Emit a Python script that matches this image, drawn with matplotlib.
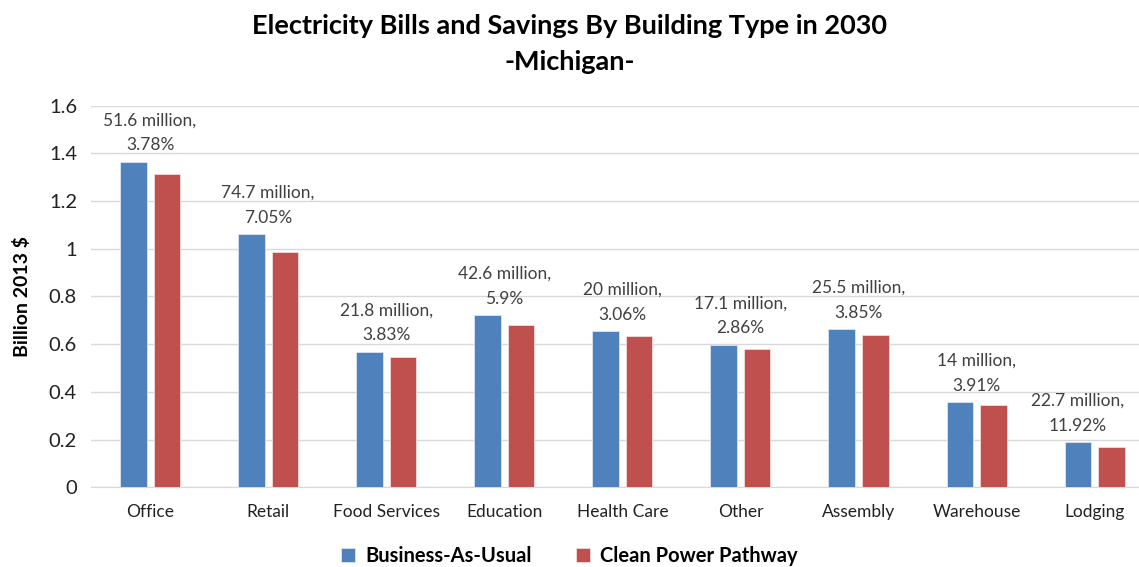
import numpy as np
import matplotlib.pyplot as plt

plt.rcParams['font.family'] = ['Lato', 'DejaVu Sans']

building_types = ['Office', 'Retail', 'Food Services', 'Education', 'Health Care',
                  'Other', 'Assembly', 'Warehouse', 'Lodging']
# billion 2013 $
business_as_usual = [1.365, 1.060, 0.569, 0.722, 0.654, 0.598, 0.662, 0.358, 0.190]
clean_power = [1.313, 0.985, 0.547, 0.679, 0.634, 0.581, 0.637, 0.344, 0.168]
savings_million = ['51.6', '74.7', '21.8', '42.6', '20', '17.1', '25.5', '14', '22.7']
savings_pct = ['3.78', '7.05', '3.83', '5.9', '3.06', '2.86', '3.85', '3.91', '11.92']

blue = '#4F81BD'
red = '#C0504D'

fig = plt.figure(figsize=(11.39, 5.67), dpi=100)
ax = fig.add_axes([0.0799, 0.1406, 0.933, 0.673])

x = np.arange(len(building_types))
w = 0.225
off = 0.142
ax.bar(x - off, business_as_usual, w, color=blue, edgecolor='#dce6f2', linewidth=0.6,
       label='Business-As-Usual', zorder=3)
ax.bar(x + off, clean_power, w, color=red, edgecolor='#f2dcdb', linewidth=0.6,
       label='Clean Power Pathway', zorder=3)

for i in range(len(building_types)):
    # keep the last label inside the figure edge
    dx = -12 if i == len(building_types) - 1 else 0
    ax.annotate(f'{savings_million[i]} million,\n{savings_pct[i]}%',
                xy=(x[i], business_as_usual[i]), xytext=(dx, 6),
                textcoords='offset points', ha='center', va='bottom',
                fontsize=12.5, color='#404040', linespacing=1.7)

ax.set_xlim(-0.5, len(building_types) - 0.5)
ax.set_ylim(0, 1.6)
ax.set_yticks(np.arange(0, 1.61, 0.2))
ax.set_yticklabels(['0', '0.2', '0.4', '0.6', '0.8', '1', '1.2', '1.4', '1.6'])
ax.set_xticks(x)
ax.set_xticklabels(building_types)
ax.tick_params(axis='y', length=0, labelsize=14.5, pad=10, colors='#222222')
ax.tick_params(axis='x', length=0, labelsize=12.5, pad=12, colors='#222222')
ax.grid(axis='y', color='#d9d9d9', linewidth=1, zorder=0)
for s in ['top', 'right', 'left']:
    ax.spines[s].set_visible(False)
ax.spines['bottom'].set_color('#d9d9d9')
ax.set_ylabel('Billion 2013 $', fontsize=14, fontweight='bold', labelpad=13)

fig.text(0.5, 0.955, 'Electricity Bills and Savings By Building Type in 2030',
         ha='center', va='center', fontsize=19.5, fontweight='bold')
fig.text(0.5, 0.89, '-Michigan-', ha='center', va='center', fontsize=19.5, fontweight='bold')

fig.legend(loc='center', bbox_to_anchor=(0.5, 0.02), ncol=2, frameon=False,
           prop={'weight': 'bold', 'size': 14.5}, handlelength=0.7, handleheight=0.7,
           columnspacing=2.2, handletextpad=0.5)

fig.savefig('out.png', dpi=100)
